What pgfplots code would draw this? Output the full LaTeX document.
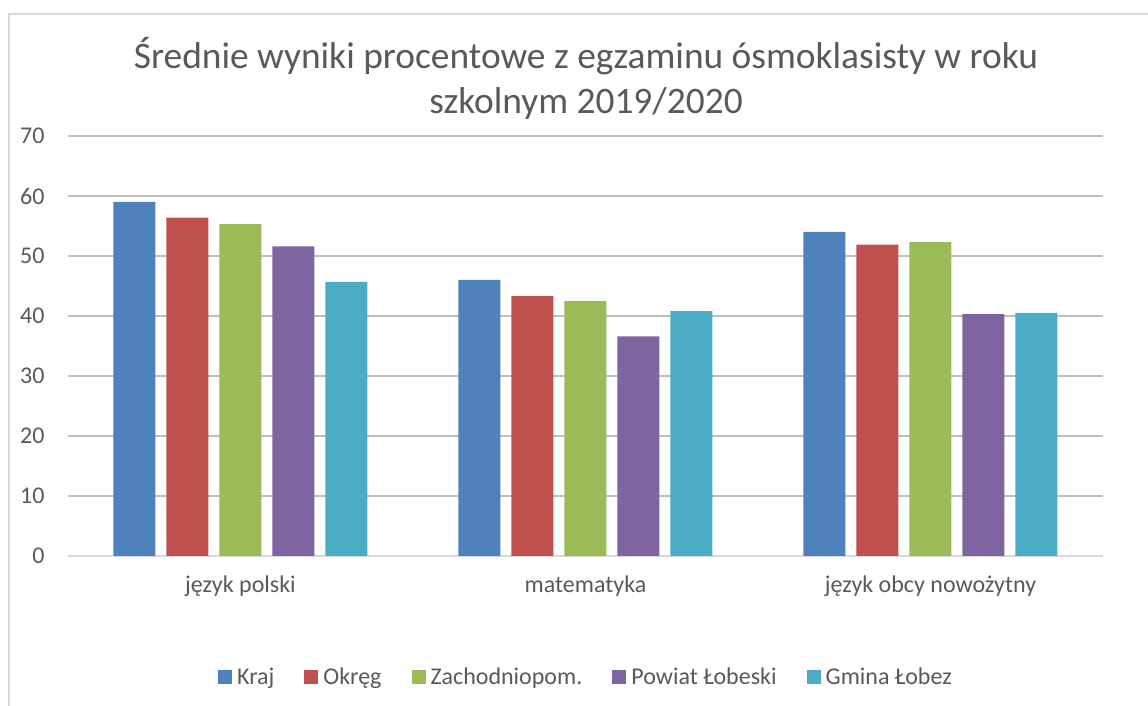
\documentclass[border=0pt]{standalone}
\usepackage{fontspec}
\setmainfont{Carlito}
\usepackage{pgfplots}
\pgfplotsset{compat=1.18}
\definecolor{cKraj}{HTML}{4F81BD}
\definecolor{cOkreg}{HTML}{C0504D}
\definecolor{cZach}{HTML}{9BBB59}
\definecolor{cPow}{HTML}{8064A2}
\definecolor{cGm}{HTML}{4BACC6}
\definecolor{txt}{HTML}{595959}
\definecolor{grid}{HTML}{D9D9D9}
\begin{document}
\begin{tikzpicture}
\path[use as bounding box] (0,0) rectangle (1148pt,706pt);
\draw[grid,line width=1.5pt] (9pt,0) -- (9pt,692pt) -- (1148pt,692pt);
\node[txt,font=\fontsize{37.4}{45}\selectfont,anchor=base] at (586pt,637pt) {Średnie wyniki procentowe z egzaminu ósmoklasisty w roku};
\node[txt,font=\fontsize{37.4}{45}\selectfont,anchor=base] at (586pt,592pt) {szkolnym 2019/2020};
\begin{axis}[
  at={(68pt,150pt)}, anchor=south west,
  scale only axis, width=1035pt, height=420pt,
  ybar=11pt, bar width=42pt,
  xmin=-0.5, xmax=2.5, ymin=0, ymax=70,
  xtick={0,1,2}, xticklabels={język polski,matematyka,język obcy nowożytny},
  ytick={0,10,...,70},
  axis line style={draw=none},
  xmajorgrids=false, ymajorgrids=true,
  grid style={grid,line width=1.5pt},
  major tick length=0pt, minor tick length=0pt,
  tick style={draw=none},
  ticklabel style={txt,font=\fontsize{24}{29}\selectfont},
  xticklabel style={yshift=-16pt},
  yticklabel style={xshift=-20pt},
  /pgf/number format/assume math mode=true,
  legend columns=5,
  legend style={draw=none, at={(0.5,-121pt)}, anchor=center,
    font=\fontsize{24}{29}\selectfont, text=txt,
    /tikz/every odd column/.append style={column sep=4pt},
    /tikz/every even column/.append style={column sep=29pt},
    nodes={inner sep=1pt}},
  legend image code/.code={\fill[#1] (0pt,-7pt) rectangle (14pt,7pt);},
  clip=false,
]
\draw[grid,line width=2pt] (axis cs:-0.5,0) -- (axis cs:2.5,0);
\addplot[fill=cKraj,draw=none] coordinates {(0,59.0) (1,46.0) (2,54.0)};
\addplot[fill=cOkreg,draw=none] coordinates {(0,56.4) (1,43.3) (2,51.9)};
\addplot[fill=cZach,draw=none] coordinates {(0,55.3) (1,42.5) (2,52.3)};
\addplot[fill=cPow,draw=none] coordinates {(0,51.6) (1,36.6) (2,40.3)};
\addplot[fill=cGm,draw=none] coordinates {(0,45.7) (1,40.8) (2,40.5)};
\legend{Kraj,Okręg,Zachodniopom.,Powiat Łobeski,Gmina Łobez}
\end{axis}
\end{tikzpicture}
\end{document}
